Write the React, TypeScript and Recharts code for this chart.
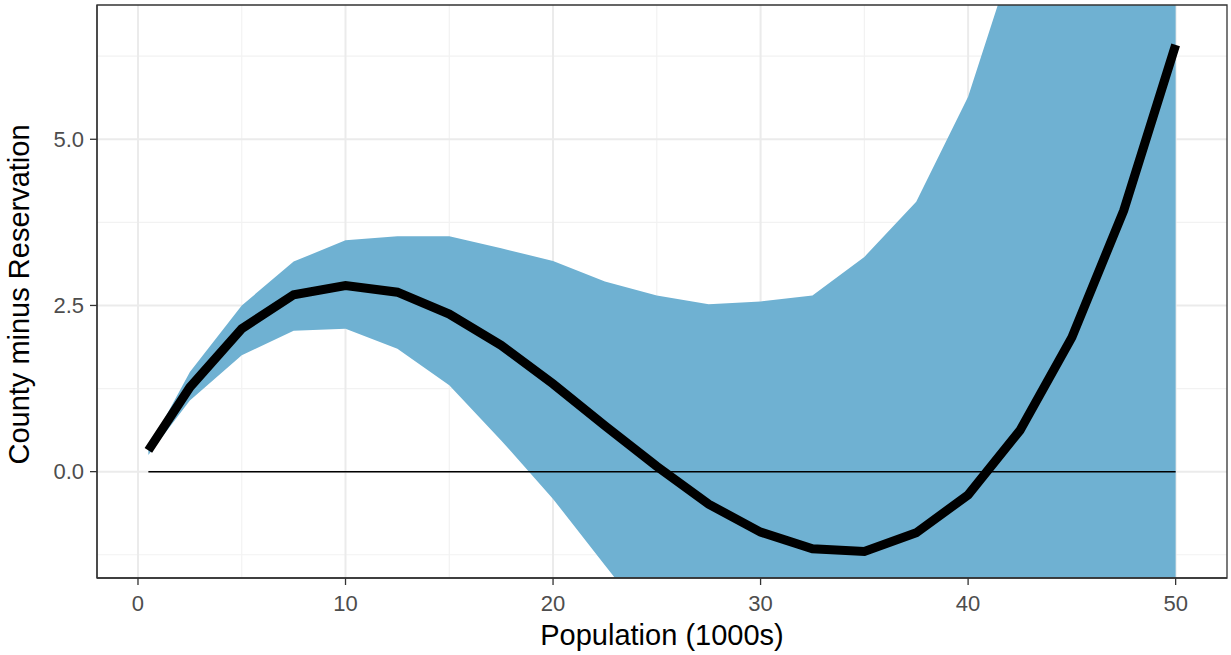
import React from 'react';
import {
  ComposedChart,
  Area,
  Line,
  XAxis,
  YAxis,
  CartesianGrid,
  ReferenceLine,
  ReferenceArea,
  Label,
} from 'recharts';

// population in thousands
const population = [0.5, 2.5, 5, 7.5, 10, 12.5, 15, 17.5, 20, 22.5, 25, 27.5, 30, 32.5, 35, 37.5, 40, 42.5, 45, 47.5, 50];
// fitted difference (county minus reservation)
const fitted = [0.32, 1.27, 2.15, 2.66, 2.8, 2.7, 2.37, 1.9, 1.32, 0.69, 0.08, -0.49, -0.91, -1.16, -1.2, -0.92, -0.35, 0.62, 2.02, 3.93, 6.42];
// confidence band
const lower = [0.25, 1.07, 1.75, 2.12, 2.15, 1.85, 1.3, 0.47, -0.41, -1.41, -2.39, -3.4, -4.3, -5.0, -5.5, -6.0, -6.4, -6.8, -7.4, -8.0, -8.8];
const upper = [0.35, 1.5, 2.5, 3.16, 3.48, 3.54, 3.54, 3.36, 3.17, 2.86, 2.65, 2.52, 2.56, 2.65, 3.23, 4.06, 5.64, 8.05, 11.0, 14.5, 19.0];

const xTicks = [0, 10, 20, 30, 40, 50];
const xMinor = [5, 15, 25, 35, 45];
const yTicks = [0, 2.5, 5];
const yMinor = [-1.25, 1.25, 3.75, 6.25];

const X_DOMAIN: [number, number] = [-1.975, 52.475];
const Y_DOMAIN: [number, number] = [-1.6, 7.02];

const data = population.map((p, i) => ({
  pop: p,
  fit: fitted[i],
  band: [lower[i], upper[i]],
}));

const FONT = '"Liberation Sans", Arial, sans-serif';

export default function App() {
  return (
    <div style={{ position: 'absolute', left: 0, top: 0, background: '#fff' }}>
      <ComposedChart
        width={1231}
        height={655}
        data={data}
        margin={{ top: 5, right: 4, bottom: 0, left: 0 }}
      >
        <CartesianGrid
          stroke="#F2F2F2"
          strokeWidth={1.2}
          horizontalValues={yMinor}
          verticalValues={xMinor}
        />
        <CartesianGrid
          stroke="#EBEBEB"
          strokeWidth={2}
          horizontalValues={yTicks}
          verticalValues={xTicks}
        />
        <XAxis
          dataKey="pop"
          type="number"
          domain={X_DOMAIN}
          ticks={xTicks}
          allowDataOverflow
          height={77}
          tickSize={7}
          tickMargin={10}
          axisLine={{ stroke: '#333333', strokeWidth: 1.3 }}
          tickLine={{ stroke: '#333333', strokeWidth: 1.3 }}
          tick={{ fill: '#4D4D4D', fontSize: 22, fontFamily: FONT }}
        >
          <Label
            value="Population (1000s)"
            position="insideBottom"
            offset={10}
            style={{ fill: '#000', fontSize: 29, fontFamily: FONT }}
          />
        </XAxis>
        <YAxis
          type="number"
          domain={Y_DOMAIN}
          ticks={yTicks}
          allowDataOverflow
          width={97}
          tickSize={7}
          tickMargin={6}
          tickFormatter={(v: number) => v.toFixed(1)}
          axisLine={{ stroke: '#333333', strokeWidth: 1.3 }}
          tickLine={{ stroke: '#333333', strokeWidth: 1.3 }}
          tick={{ fill: '#4D4D4D', fontSize: 22, fontFamily: FONT }}
        >
          <Label
            content={() => (
              <text
                x={29}
                y={294.5}
                transform="rotate(-90, 29, 294.5)"
                textAnchor="middle"
                fill="#000"
                fontSize={29}
                fontFamily={FONT}
              >
                County minus Reservation
              </text>
            )}
          />
        </YAxis>
        <Area
          dataKey="band"
          type="linear"
          fill="#6FB1D2"
          fillOpacity={1}
          stroke="none"
          isAnimationActive={false}
        />
        <ReferenceLine
          segment={[
            { x: population[0], y: 0 },
            { x: population[population.length - 1], y: 0 },
          ]}
          stroke="#000"
          strokeWidth={1.5}
        />
        <Line
          dataKey="fit"
          type="linear"
          stroke="#000"
          strokeWidth={9}
          dot={false}
          activeDot={false}
          isAnimationActive={false}
        />
        <ReferenceArea
          x1={X_DOMAIN[0]}
          x2={X_DOMAIN[1]}
          y1={Y_DOMAIN[0]}
          y2={Y_DOMAIN[1]}
          fill="none"
          stroke="#333333"
          strokeWidth={1.3}
        />
      </ComposedChart>
    </div>
  );
}
